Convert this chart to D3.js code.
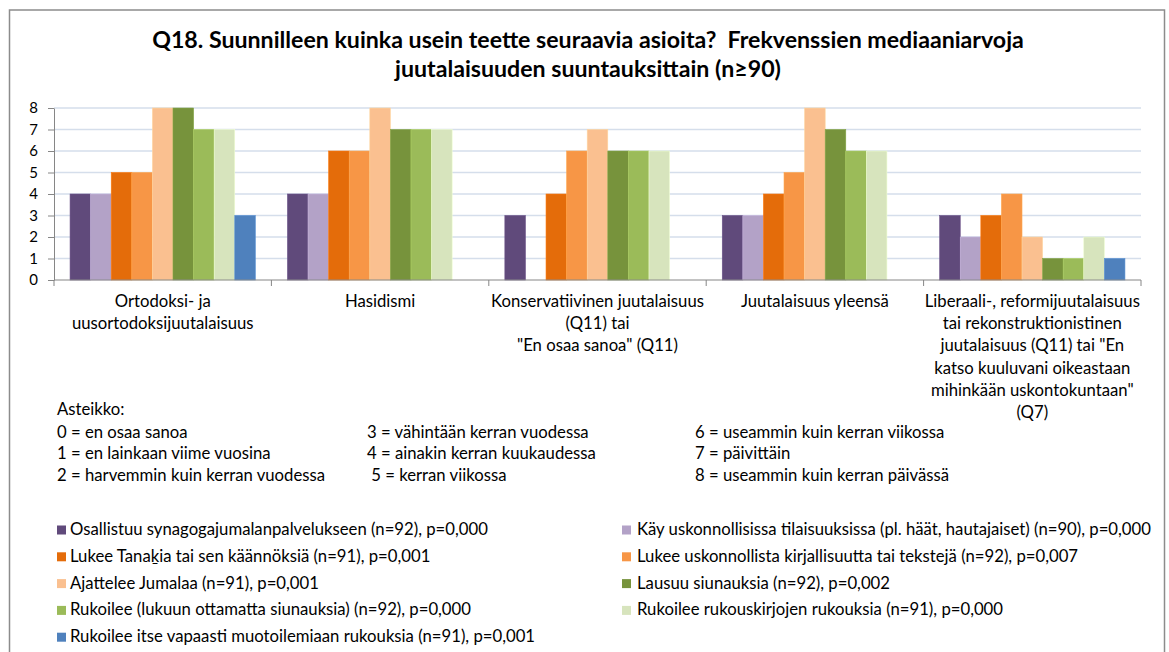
<!DOCTYPE html>
<html>
<head>
<meta charset="utf-8">
<script src="https://cdn.jsdelivr.net/npm/d3@7"></script>
<style>
  html, body { margin: 0; padding: 0; background: #fff; }
  svg { display: block; }
  text { font-family: Lato, "Open Sans", sans-serif; fill: #000; white-space: pre; }
</style>
</head>
<body>
<svg id="chart" width="1169" height="652"></svg>
<script>
// ---------- DATA ----------
const titleLines = [
  "Q18. Suunnilleen kuinka usein teette seuraavia asioita?  Frekvenssien mediaaniarvoja",
  "juutalaisuuden suuntauksittain (n\u226590)"
];
const categories = [
  ["Ortodoksi- ja", "uusortodoksijuutalaisuus"],
  ["Hasidismi"],
  ["Konservatiivinen juutalaisuus", "(Q11) tai", "\"En osaa sanoa\" (Q11)"],
  ["Juutalaisuus yleensä"],
  ["Liberaali-, reformijuutalaisuus", "tai rekonstruktionistinen", "juutalaisuus (Q11) tai \"En", "katso kuuluvani oikeastaan", "mihinkään uskontokuntaan\"", "(Q7)"]
];
const seriesNames = [
  "Osallistuu synagogajumalanpalvelukseen (n=92), p=0,000",
  "Käy uskonnollisissa tilaisuuksissa (pl. häät, hautajaiset) (n=90), p=0,000",
  "Lukee Tana\u1E35ia tai sen käännöksiä (n=91), p=0,001",
  "Lukee uskonnollista kirjallisuutta tai tekstejä (n=92), p=0,007",
  "Ajattelee Jumalaa (n=91), p=0,001",
  "Lausuu siunauksia (n=92), p=0,002",
  "Rukoilee (lukuun ottamatta siunauksia) (n=92), p=0,000",
  "Rukoilee rukouskirjojen rukouksia (n=91), p=0,000",
  "Rukoilee itse vapaasti muotoilemiaan rukouksia (n=91), p=0,001"
];
// values per series, one per category
const synagoga     = [4, 4, 3, 3, 3];
const tilaisuudet  = [4, 4, 0, 3, 2];
const tanakh       = [5, 6, 4, 4, 3];
const kirjallisuus = [5, 6, 6, 5, 4];
const jumala       = [8, 8, 7, 8, 2];
const siunaukset   = [8, 7, 6, 7, 1];
const rukoilee     = [7, 7, 6, 6, 1];
const rukouskirjat = [7, 7, 6, 6, 2];
const vapaasti     = [3, 0, 0, 0, 1];
const seriesValues = [synagoga, tilaisuudet, tanakh, kirjallisuus, jumala, siunaukset, rukoilee, rukouskirjat, vapaasti];
const yTicks = [0, 1, 2, 3, 4, 5, 6, 7, 8];
const scaleHeader = "Asteikko:";
const scaleItems = [
  ["0 = en osaa sanoa", "1 = en lainkaan viime vuosina", "2 = harvemmin kuin kerran vuodessa"],
  ["3 = vähintään kerran vuodessa", "4 = ainakin kerran kuukaudessa", " 5 = kerran viikossa"],
  ["6 = useammin kuin kerran viikossa", "7 = päivittäin", "8 = useammin kuin kerran päivässä"]
];

// ---------- STYLE ----------
const colors = ["#604A7B", "#B3A2C7", "#E46C0A", "#F79646", "#FAC090", "#77933C", "#9BBB59", "#D7E4BD", "#4F81BD"];

const svg = d3.select("#chart");

// outer chart border
svg.append("rect").attr("x", 9.5).attr("y", 10).attr("width", 1155).attr("height", 700)
  .attr("fill", "#fff").attr("stroke", "#8c8c8c").attr("stroke-width", 1.5);

// font fitting helper: choose font size such that the given strings' total width matches target
function fitSize(texts, weight, target) {
  let w = 0;
  texts.forEach(s => {
    const t = svg.append("text").attr("font-size", 100).attr("font-weight", weight).text(s);
    w += t.node().getComputedTextLength();
    t.remove();
  });
  return 100 * target / w;
}
const titleSize = fitSize([titleLines[0]], "bold", 872);
const bodySize = fitSize(seriesNames, "normal", 3469);

// title
svg.append("g").selectAll("text").data(titleLines).join("text")
  .attr("x", 588).attr("y", (d, i) => 48 + i * 29)
  .attr("text-anchor", "middle").attr("font-weight", "bold")
  .attr("font-size", titleSize).text(d => d);

// scales
const plot = { left: 54, right: 1141, top: 108, bottom: 280 };
const x0 = d3.scaleBand().domain(d3.range(categories.length)).range([plot.left, plot.right]).padding(0);
const x1 = d3.scaleBand().domain(d3.range(seriesNames.length)).range([0, x0.bandwidth()]).paddingInner(0).paddingOuter(0.78);
const y = d3.scaleLinear().domain([0, 8]).range([plot.bottom, plot.top]);

// gridlines
svg.append("g").selectAll("line").data(yTicks.filter(d => d > 0)).join("line")
  .attr("x1", plot.left).attr("x2", plot.right)
  .attr("y1", d => y(d)).attr("y2", d => y(d))
  .attr("stroke", "#D5DEEB").attr("stroke-width", 1.5);

// bars
const groups = svg.append("g").selectAll("g").data(categories).join("g")
  .attr("transform", (d, i) => `translate(${x0(i)},0)`);
groups.selectAll("rect")
  .data((d, ci) => seriesValues.map((vals, si) => ({ si, v: vals[ci] })).filter(d => d.v > 0))
  .join("rect")
  .attr("x", d => x1(d.si)).attr("width", x1.bandwidth())
  .attr("y", d => y(d.v)).attr("height", d => y(0) - y(d.v))
  .attr("fill", d => colors[d.si])
  .attr("stroke", d => d3.color(colors[d.si]).brighter(0.3)).attr("stroke-width", 0.6);

// y axis
const yAxis = svg.append("g").attr("transform", `translate(${plot.left},0)`)
  .call(d3.axisLeft(y).tickValues(yTicks).tickSize(6).tickPadding(10).tickSizeOuter(0));
yAxis.select(".domain").attr("stroke", "#868686");
yAxis.selectAll(".tick line").attr("stroke", "#868686");
yAxis.selectAll(".tick text").attr("font-size", 15).attr("font-family", "Lato, sans-serif").attr("fill", "#000");

// x axis baseline & boundary ticks
const xAxis = svg.append("g");
xAxis.append("line").attr("x1", plot.left).attr("x2", plot.right)
  .attr("y1", y(0)).attr("y2", y(0)).attr("stroke", "#868686").attr("stroke-width", 1);
const bounds = d3.range(categories.length).map(i => x0(i)).concat([x0.range()[1]]);
xAxis.selectAll("line.b").data(bounds).join("line").attr("class", "b")
  .attr("x1", d => d).attr("x2", d => d).attr("y1", y(0)).attr("y2", y(0) + 6)
  .attr("stroke", "#868686");

// category labels
svg.append("g").selectAll("text").data(categories).join("text")
  .attr("text-anchor", "middle").attr("font-size", bodySize)
  .attr("transform", (d, i) => `translate(${x0(i) + x0.bandwidth() / 2},307)`)
  .selectAll("tspan").data(d => d).join("tspan")
  .attr("x", 0).attr("y", (d, i) => i * 22.2).text(d => d);

// scale explanation
const sc = svg.append("g");
sc.append("text").attr("x", 57).attr("y", 415).attr("font-size", bodySize).text(scaleHeader);
const colX = [57, 367, 695];
scaleItems.forEach((col, ci) => {
  sc.append("g").selectAll("text").data(col).join("text")
    .attr("x", colX[ci]).attr("y", (d, i) => 438 + i * 21.3)
    .attr("font-size", bodySize)
    .text(d => d);
});

// legend
const leg = svg.append("g");
const legItems = leg.selectAll("g").data(seriesNames).join("g")
  .attr("transform", (d, i) => `translate(${i % 2 === 0 ? 57 : 622},${530 + Math.floor(i / 2) * 26.8})`);
legItems.append("rect").attr("x", 0).attr("y", -4.5).attr("width", 9).attr("height", 9)
  .attr("fill", (d, i) => colors[i]);
legItems.append("text").attr("x", (d, i) => i % 2 === 0 ? 13 : 15).attr("y", 5)
  .attr("font-size", bodySize).text(d => d);
</script>
</body>
</html>
